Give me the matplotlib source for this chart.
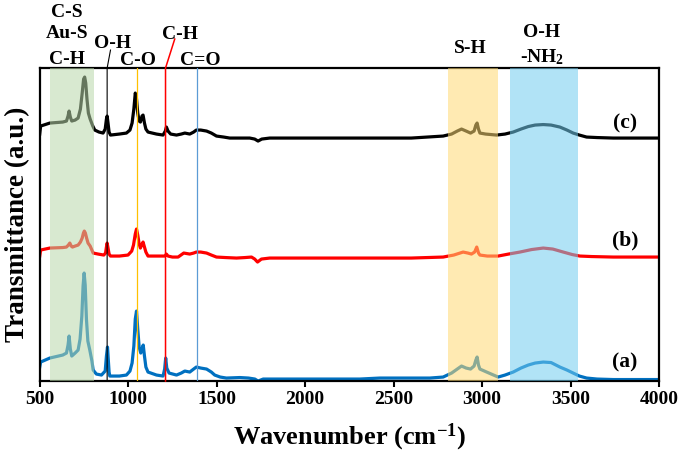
import matplotlib.pyplot as plt
import numpy as np

plt.rcParams['font.family'] = ['Liberation Serif', 'DejaVu Serif']
plt.rcParams['font.weight'] = 'bold'
plt.rcParams['mathtext.fontset'] = 'custom'
plt.rcParams['mathtext.rm'] = 'Liberation Serif:bold'
plt.rcParams['mathtext.bf'] = 'Liberation Serif:bold'
plt.rcParams['mathtext.it'] = 'Liberation Serif:bold'

# Спектр (c) - черный
wn_c = [500, 505, 557, 630, 651, 660, 666, 673, 681, 700, 717, 730, 740, 748, 754, 760, 767, 775,
        785, 800, 811, 835, 858, 870, 877, 881, 886, 892, 900, 950, 990, 1010, 1022, 1032, 1040,
        1046, 1054, 1062, 1069, 1078, 1084, 1092, 1100, 1112, 1160, 1197, 1210, 1216, 1225, 1240,
        1273, 1300, 1320, 1348, 1370, 1385, 1410, 1443, 1470, 1499, 1540, 1574, 1640, 1687, 1715,
        1734, 1755, 1800, 2000, 2309, 2600, 2780, 2828, 2860, 2884, 2910, 2935, 2955, 2965, 2972,
        2980, 2988, 3020, 3082, 3130, 3176, 3220, 3261, 3300, 3346, 3390, 3440, 3480, 3515, 3550,
        3591, 3650, 3742, 4000]
tr_c = [247, 255, 258, 259, 260, 265, 270, 264, 260, 261, 263, 272, 288, 302, 304, 298, 282, 268,
        262, 255, 251, 249, 248, 252, 262, 265, 258, 249, 246, 247, 248, 251, 258, 272, 288,
        284, 268, 260, 259, 265, 266, 258, 252, 249, 247, 246, 250, 254, 250, 247,
        246, 247, 248, 247, 249, 251, 251, 250, 248, 245, 244, 243, 243, 243, 242,
        240, 242, 243, 243, 243, 243, 245, 247, 250, 252, 250, 248, 250, 256, 258,
        252, 248, 247, 246, 247, 249, 252, 254.5, 256, 256.5, 256, 254, 251, 248, 246,
        244, 243.5, 243, 243]

# Спектр (b) - красный
wn_b = [500, 505, 557, 630, 651, 662, 670, 678, 685, 700, 717, 730, 740, 747, 752, 758, 765, 773,
        785, 802, 830, 862, 872, 877, 881, 886, 892, 900, 950, 999, 1020, 1030, 1040, 1047, 1054,
        1062, 1069, 1078, 1084, 1092, 1100, 1112, 1160, 1207, 1216, 1225, 1250, 1282, 1314, 1348,
        1370, 1385, 1410, 1443, 1470, 1499, 1550, 1612, 1660, 1697, 1715, 1731, 1753, 1800, 2000,
        2309, 2600, 2780, 2840, 2893, 2920, 2940, 2958, 2970, 2980, 2988, 3030, 3091, 3150, 3214,
        3280, 3346, 3400, 3459, 3510, 3553, 3620, 3742, 4000]
tr_b = [125, 131, 133, 133.5, 134, 136, 138, 135, 134, 135, 136, 139, 143, 148, 150, 148, 143, 138,
        135, 128, 127, 126, 128, 134, 138, 133, 127, 125, 125, 126, 130, 136, 147, 152, 146,
        137, 133, 137, 139, 134, 129, 125, 125, 125, 127, 125, 124, 124, 128, 127,
        128, 129, 129, 128, 126, 124, 123.5, 123, 123.5, 124, 122, 119, 122, 123, 123,
        123, 123, 124, 126, 129, 128, 127, 129, 134, 128, 126, 125, 125, 127, 129,
        131.5, 133, 132, 129, 126.5, 125, 124.5, 124, 124]

# Спектр (a) - синий
wn_a = [500, 505, 557, 630, 651, 660, 666, 673, 681, 700, 717, 728, 738, 745, 751, 757, 764, 772,
        783, 795, 802, 820, 849, 870, 877, 883, 888, 892, 896, 950, 990, 1010, 1022, 1032, 1040,
        1047, 1054, 1062, 1071, 1079, 1085, 1092, 1100, 1112, 1160, 1197, 1206, 1212, 1218, 1231,
        1273, 1300, 1320, 1348, 1370, 1385, 1410, 1443, 1470, 1489, 1520, 1555, 1631, 1680, 1716,
        1734, 1763, 2000, 2309, 2422, 2705, 2780, 2828, 2860, 2884, 2910, 2935, 2955, 2965, 2972,
        2980, 2988, 3026, 3091, 3130, 3176, 3220, 3261, 3300, 3346, 3390, 3440, 3480, 3515, 3550,
        3591, 3650, 3742, 4000]
tr_a = [14, 19, 23, 26, 28, 36, 45, 32, 25, 28, 31, 42, 65, 95, 108, 96, 62, 40,
        31, 20, 11, 7, 6, 10, 25, 34, 20, 9, 5, 5, 6, 10, 18, 35, 62,
        70, 52, 34, 28, 33, 36, 25, 14, 9, 6, 5, 12, 23, 13, 8,
        6, 8, 10, 9, 12, 14, 13, 12, 9, 6, 4, 3, 3.5, 3, 2,
        0, 2, 2, 2, 3, 3, 4, 8, 12, 15, 13, 12, 15, 21, 24,
        16, 12, 9, 4, 6, 9, 13, 16, 18, 19, 18.5, 14, 11, 8, 5,
        3, 2, 1.5, 1.5]

# Полосы
bands = [(557, 808, '#B9D8AA', 0.55), (2805, 3090, '#FFDA73', 0.55), (3157, 3544, '#72CDF0', 0.55)]

fig = plt.figure(figsize=(6.85, 4.63), dpi=100)
ax = fig.add_axes([0.058, 0.177, 0.904, 0.676])

ax.plot(wn_c, tr_c, color='black', lw=2.3, zorder=2)
ax.plot(wn_b, tr_b, color='#FF0000', lw=2.3, zorder=2)
ax.plot(wn_a, tr_a, color='#0070C0', lw=2.3, zorder=2)

for x0, x1, col, a in bands:
    ax.axvspan(x0, x1, color=col, alpha=a, lw=0, zorder=3)

# Вертикальные линии
ax.plot([881, 881, 900], [0, 313, 331], color='black', lw=0.8, clip_on=False, zorder=4)
ax.axvline(1050, color='#FFC000', lw=0.9, zorder=4)
ax.plot([1211, 1211, 1263], [0, 313, 342], color='#FF0000', lw=1.1, clip_on=False, zorder=4)
ax.axvline(1390, color='#5B9BD5', lw=0.9, zorder=4)

ax.set_xlim(500, 4000)
ax.set_ylim(0, 313)
ax.set_xticks(np.arange(500, 4001, 500))
ax.set_yticks([])
ax.tick_params(axis='x', direction='out', length=4, width=1.5, labelsize=14, pad=3)
for s in ax.spines.values():
    s.set_linewidth(1.6)

ax.set_xlabel(r'Wavenumber (cm$^{\mathbf{-1}}$)', fontsize=19, fontweight='bold', labelpad=10)
ax.set_ylabel('Transmittance (a.u.)', fontsize=19.5, fontweight='bold', labelpad=7)

labels = [('C-S', 653, 369), ('Au-S', 653, 348), ('C-H', 653, 322), ('O-H', 913, 338),
          ('C-O', 1054, 321), ('C-H', 1292, 347), ('C=O', 1405, 321), ('S-H', 2931, 333),
          ('O-H', 3338, 349), (r'-NH$_\mathbf{2}$', 3338, 324)]
for t, x, y in labels:
    ax.text(x, y, t, fontsize=14, fontweight='bold', ha='center', va='center', clip_on=False)

for t, y in [('(c)', 258), ('(b)', 141), ('(a)', 19)]:
    ax.text(3808, y, t, fontsize=15.5, fontweight='bold', ha='center', va='center')

plt.savefig('out.png', dpi=100)
